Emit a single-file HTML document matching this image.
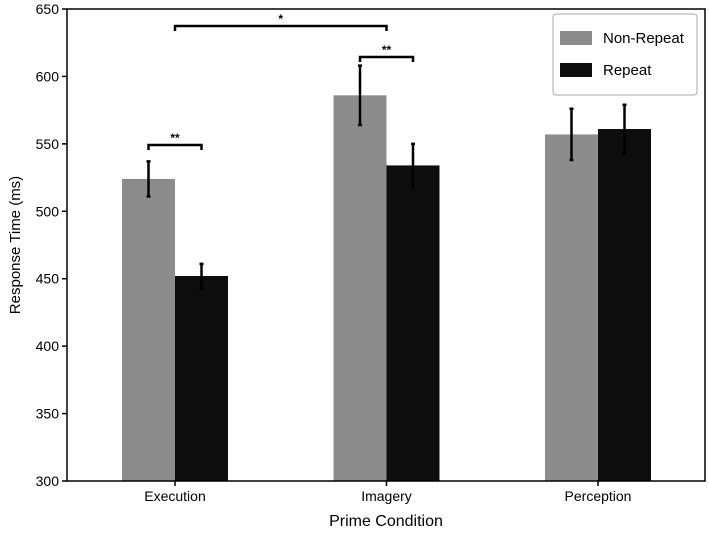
<!DOCTYPE html>
<html><head><meta charset="utf-8"><style>
body{margin:0;background:#fff;}
svg text{font-family:"Liberation Sans",Arial,sans-serif;}
</style></head><body>
<svg id="chart" width="709" height="531" xmlns="http://www.w3.org/2000/svg"></svg>
<script>
const categories=["Execution","Imagery","Perception"];
const nonRepeat=[524,586,557];
const repeat=[452,534,561];
const nonRepeatErr=[13,22,19];
const repeatErr=[9,16,18];
const yTicks=[300,350,400,450,500,550,600,650];
const NS="http://www.w3.org/2000/svg";
const svg=document.getElementById('chart');
const L=67,R=705,T=9,B=481,yMin=300,yMax=650;
const y=v=>B-(v-yMin)/(yMax-yMin)*(B-T);
const xc=i=>175+i*211.5;
const bw=53;
function mk(tag,at,name,txt){const e=document.createElementNS(NS,tag);for(const k in at)e.setAttribute(k,at[k]);


if(txt!==undefined)e.textContent=txt;svg.appendChild(e);return e;}
categories.forEach((c,i)=>{
 mk('rect',{x:xc(i)-bw,y:y(nonRepeat[i]),width:bw,height:B-y(nonRepeat[i]),fill:'#8c8c8c'},'bar-nonrepeat-'+c.toLowerCase());
 mk('rect',{x:xc(i),y:y(repeat[i]),width:bw,height:B-y(repeat[i]),fill:'#0d0d0d'},'bar-repeat-'+c.toLowerCase());
 [[xc(i)-bw/2,nonRepeat[i],nonRepeatErr[i],'nonrepeat'],[xc(i)+bw/2,repeat[i],repeatErr[i],'repeat']].forEach(([x,v,e,n])=>{
  mk('path',{d:`M${x},${y(v+e)}V${y(v-e)}M${x-2},${y(v+e)}H${x+2}M${x-2},${y(v-e)}H${x+2}`,stroke:'#000','stroke-width':2.5,fill:'none'},'error-bar-'+n+'-'+c.toLowerCase());
 });
 mk('line',{x1:xc(i),x2:xc(i),y1:B,y2:B+5,stroke:'#000','stroke-width':1.5},'x-tick');
 mk('text',{x:xc(i),y:B+20,'text-anchor':'middle','font-size':14},'x-tick-label',c);
});
yTicks.forEach(t=>{
 mk('line',{x1:L-5,x2:L,y1:y(t),y2:y(t),stroke:'#000','stroke-width':1.5},'y-tick');
 mk('text',{x:L-8,y:y(t)+5,'text-anchor':'end','font-size':14},'y-tick-label',t);
});
mk('rect',{x:L,y:T,width:R-L,height:B-T,fill:'none',stroke:'#000','stroke-width':1.5},'plot-frame');
function br(x1,x2,yy,lab,n){mk('path',{d:`M${x1},${yy+5}V${yy}H${x2}V${yy+5}`,stroke:'#000','stroke-width':2.5,fill:'none'},n);
 mk('text',{x:(x1+x2)/2,y:yy-3,'text-anchor':'middle','font-size':12,'font-weight':'bold'},n+'-label',lab);}
br(xc(0),xc(1),26,'*','sig-bracket-exec-imagery');
br(xc(0)-bw/2,xc(0)+bw/2,145,'**','sig-bracket-execution');
br(xc(1)-bw/2,xc(1)+bw/2,57,'**','sig-bracket-imagery');
mk('text',{x:386,y:526,'text-anchor':'middle','font-size':16},'x-axis-title','Prime Condition');
mk('text',{x:20,y:245,'text-anchor':'middle','font-size':15,transform:'rotate(-90 20 245)'},'y-axis-title','Response Time (ms)');
mk('rect',{x:553,y:14,width:144,height:81,rx:3,fill:'#fff',stroke:'#aaa','stroke-width':1},'legend');
mk('rect',{x:560,y:31,width:32,height:14,fill:'#8c8c8c'},'legend-swatch-nonrepeat');
mk('text',{x:603,y:43,'font-size':15},'legend-label-nonrepeat','Non-Repeat');
mk('rect',{x:560,y:63,width:32,height:14,fill:'#0d0d0d'},'legend-swatch-repeat');
mk('text',{x:603,y:75,'font-size':15},'legend-label-repeat','Repeat');
</script>
</body></html>
